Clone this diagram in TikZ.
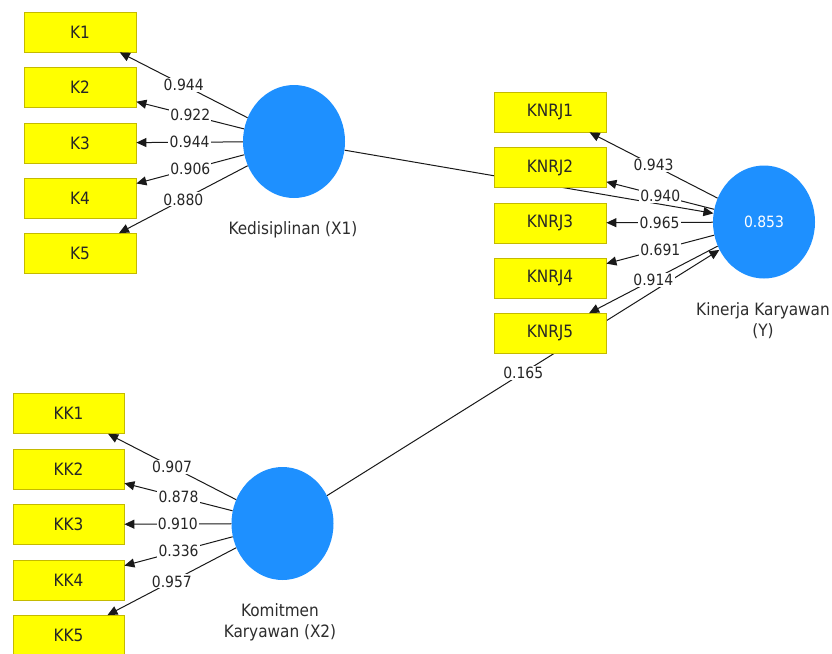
\documentclass[tikz,border=0pt]{standalone}
\usepackage{fontspec}
\setmainfont{DejaVu Sans Condensed}
\usetikzlibrary{arrows.meta,shapes.geometric}
\definecolor{indfill}{RGB}{255,255,0}
\definecolor{indline}{RGB}{196,186,0}
\definecolor{latfill}{RGB}{30,144,255}
\definecolor{edgecol}{RGB}{25,25,25}
\definecolor{capcol}{RGB}{45,45,45}

\begin{document}
\begin{tikzpicture}[x=1pt,y=-1pt,
  indicator/.style={draw=indline, fill=indfill, line width=0.8pt,
    minimum width=112pt, minimum height=40pt, inner sep=0pt,
    font=\fontsize{17}{20}\selectfont, text=black!85},
  latent/.style={ellipse, fill=latfill, minimum width=102pt,
    minimum height=113pt, inner sep=0pt,
    font=\fontsize{15.5}{18}\selectfont, text=white},
  loading/.style={-{Triangle[length=10pt,width=9pt]}, draw=edgecol, line width=1pt},
  coef/.style={fill=white, inner sep=1.2pt, font=\fontsize{15.5}{18}\selectfont, text=black!85},
  caption/.style={font=\fontsize{17}{21}\selectfont, align=center, text=capcol, inner sep=0pt}
]
\clip (0,0) rectangle (832,653);
\fill[white] (0,0) rectangle (832,653);

% latent variables
\node[latent] (x1) at (294,141.5) {};
\node[latent] (x2) at (282.5,523.5) {};
\node[latent] (y)  at (764,222) {0.853};

\node[caption] (x1cap) at (293,230) {Kedisiplinan (X1)};
\node[caption] (x2cap) at (280,622) {Komitmen\\Karyawan (X2)};
\node[caption] (ycap)  at (763,321) {Kinerja Karyawan\\(Y)};

% structural paths
\draw[loading] (x1) -- (y);
\draw[loading] (x2) -- node[coef] {0.165} (y);

% indicators
\node[indicator] (k1) at (80,32)    {K1};
\node[indicator] (k2) at (80,87.5)  {K2};
\node[indicator] (k3) at (80,143)   {K3};
\node[indicator] (k4) at (80,198.5) {K4};
\node[indicator] (k5) at (80,253.5) {K5};

\node[indicator] (n1) at (550,112)   {KNRJ1};
\node[indicator] (n2) at (550,167.5) {KNRJ2};
\node[indicator] (n3) at (550,223)   {KNRJ3};
\node[indicator] (n4) at (550,278.5) {KNRJ4};
\node[indicator] (n5) at (550,333.5) {KNRJ5};

\node[indicator, minimum width=111pt] (kk1) at (68.5,413.5) {KK1};
\node[indicator, minimum width=111pt] (kk2) at (68.5,469)   {KK2};
\node[indicator, minimum width=111pt] (kk3) at (68.5,524.5) {KK3};
\node[indicator, minimum width=111pt] (kk4) at (68.5,580.5) {KK4};
\node[indicator, minimum width=111pt] (kk5) at (68.5,635.5) {KK5};

% outer loadings
\draw[loading] (x1) -- node[coef] {0.944} (k1);
\draw[loading] (x1) -- node[coef] {0.922} (k2);
\draw[loading] (x1) -- node[coef] {0.944} (k3);
\draw[loading] (x1) -- node[coef] {0.906} (k4);
\draw[loading] (x1) -- node[coef] {0.880} (k5);

\draw[loading] (y) -- node[coef] {0.943} (n1);
\draw[loading] (y) -- node[coef] {0.940} (n2);
\draw[loading] (y) -- node[coef] {0.965} (n3);
\draw[loading] (y) -- node[coef] {0.691} (n4);
\draw[loading] (y) -- node[coef] {0.914} (n5);

\draw[loading] (x2) -- node[coef] {0.907} (kk1);
\draw[loading] (x2) -- node[coef] {0.878} (kk2);
\draw[loading] (x2) -- node[coef] {0.910} (kk3);
\draw[loading] (x2) -- node[coef] {0.336} (kk4);
\draw[loading] (x2) -- node[coef] {0.957} (kk5);
\end{tikzpicture}
\end{document}
